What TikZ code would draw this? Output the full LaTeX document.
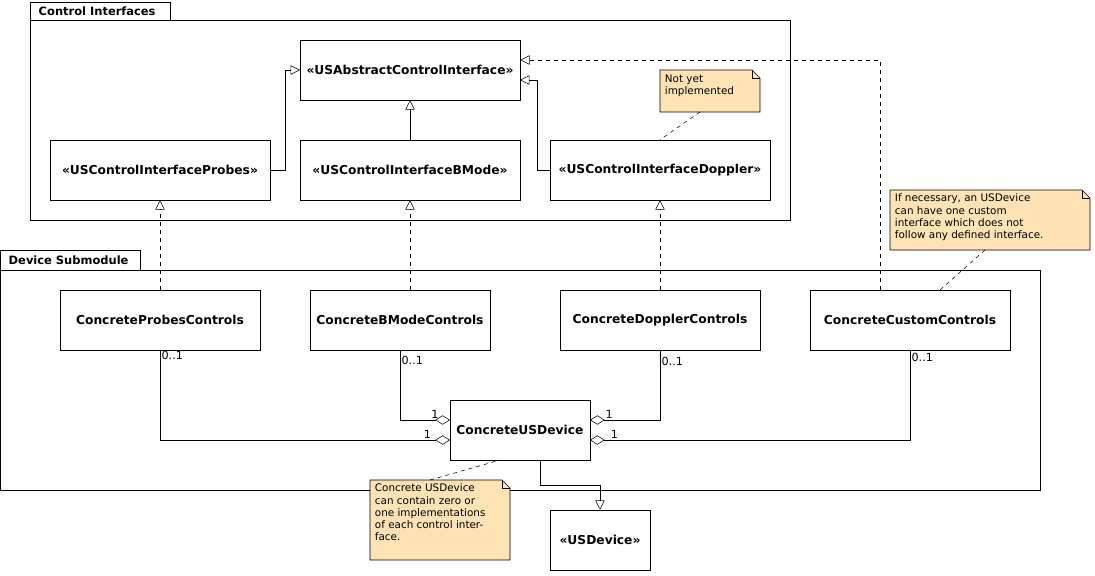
\documentclass[tikz,border=0pt]{standalone}
\usepackage{fontspec}
\setmainfont{DejaVu Sans}
\usetikzlibrary{arrows.meta}
\definecolor{notefill}{HTML}{FFE3B5}
\tikzset{
    cls/.style={draw,fill=white,font=\fontsize{9.2}{10}\selectfont\bfseries,inner sep=0pt},
    note/.style={font=\fontsize{7.8}{9.2}\selectfont,align=left,anchor=north west,inner sep=2pt},
    gen/.style={-{Triangle[open,length=7pt,width=7pt]}},
    real/.style={dashed,-{Triangle[open,length=7pt,width=7pt]}},
    agg/.style={{Diamond[open,length=11pt,width=7pt]}-},
    mult/.style={font=\fontsize{8.4}{9}\selectfont,inner sep=1pt}
}
\begin{document}
\begin{tikzpicture}[x=0.75pt,y=-0.75pt]
    \useasboundingbox (0,0) rectangle (1095,575);
    % packages
    \draw (30,2) rectangle (170,20);
    \node[anchor=west,font=\fontsize{8.6}{9}\selectfont\bfseries] (pkgci) at (34,11) {Control Interfaces};
    \draw (30,20) rectangle (790,220);
    \draw (0,250) rectangle (140,270);
    \node[anchor=west,font=\fontsize{8.6}{9}\selectfont\bfseries] (pkgds) at (4,260) {Device Submodule};
    \draw (0,270) rectangle (1040,490);
    % interfaces
    \node[cls,minimum width=165pt,minimum height=45pt] (abs) at (410,70) {«USAbstractControlInterface»};
    \node[cls,minimum width=165pt,minimum height=45pt] (ifp) at (160,170) {«USControlInterfaceProbes»};
    \node[cls,minimum width=165pt,minimum height=45pt] (ifb) at (410,170) {«USControlInterfaceBMode»};
    \node[cls,minimum width=165pt,minimum height=45pt] (ifd) at (660,170) {«USControlInterfaceDoppler»};
    % concrete classes
    \node[cls,minimum width=150pt,minimum height=45pt] (cp) at (160,320) {ConcreteProbesControls};
    \node[cls,minimum width=135pt,minimum height=45pt] (cb) at (400,320) {ConcreteBModeControls};
    \node[cls,minimum width=150pt,minimum height=45pt] (cd) at (660,320) {ConcreteDopplerControls};
    \node[cls,minimum width=150pt,minimum height=45pt] (cc) at (910,320) {ConcreteCustomControls};
    \node[cls,minimum width=105pt,minimum height=45pt] (dev) at (520,430) {ConcreteUSDevice};
    \node[cls,minimum width=75pt,minimum height=45pt] (usd) at (600,540) {«USDevice»};
    % notes
    \draw[fill=notefill] (660,70) -- (752,70) -- (760,78) -- (760,112) -- (660,112) -- cycle;
    \draw (752,70) -- (752,78) -- (760,78);
    \node[note] (n1) at (662,72) {Not yet\\implemented};
    \draw[fill=notefill] (890,190) -- (1082,190) -- (1090,198) -- (1090,250) -- (890,250) -- cycle;
    \draw (1082,190) -- (1082,198) -- (1090,198);
    \node[note] (n2) at (892,191) {If necessary, an USDevice\\can have one custom\\interface which does not\\follow any defined interface.};
    \draw[fill=notefill] (370,480) -- (502,480) -- (510,488) -- (510,560) -- (370,560) -- cycle;
    \draw (502,480) -- (502,488) -- (510,488);
    \node[note] (n3) at (372,481) {Concrete USDevice\\can contain zero or\\one implementations\\of each control inter-\\face.};
    \coordinate (n1a) at (700,112);
    \coordinate (n2a) at (985,250);
    \coordinate (n3a) at (430,480);
    \draw[dashed] (n1a) -- (ifd.north);
    \draw[dashed] (n2a) -- (940,290);
    \draw[dashed] (n3a) -- (500,460);
    % generalization
    \draw[gen] (ifp.east) -- (285,170) |- (300,70);
    \draw[gen] (ifb.north) -- (abs.south);
    \draw[gen] (ifd.west) -- (537,170) |- (520,80);
    \draw[gen] (dev.south-|540,0) -- (540,485) -| (usd.north);
    % realization
    \draw[real] (cp.north) -- (ifp.south);
    \draw[real] (cb.north-|410,0) -- (ifb.south);
    \draw[real] (cd.north) -- (ifd.south);
    \draw[real] (880,290) |- (abs.east|-0,60);
    % aggregation
    \draw[agg] (450,440) -| (cp.south) node[pos=0.03,above left,mult] {1} node[pos=0.97,right,mult] {0..1};
    \draw[agg] (450,420) -| (cb.south) node[pos=0.1,above left,mult] {1} node[pos=0.93,right,mult] {0..1};
    \draw[agg] (590,420) -| (cd.south) node[pos=0.1,above right,mult] {1} node[pos=0.92,right,mult] {0..1};
    \draw[agg] (590,440) -| (cc.south) node[pos=0.03,above right,mult] {1} node[pos=0.96,right,mult] {0..1};
\end{tikzpicture}
\end{document}
